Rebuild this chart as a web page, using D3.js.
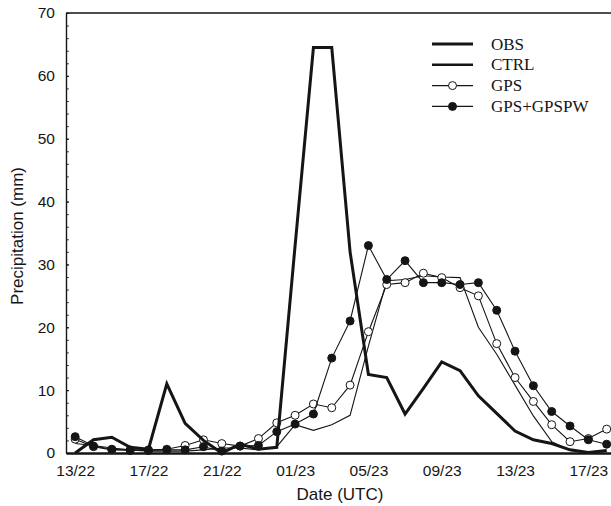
<!DOCTYPE html>
<html>
<head>
<meta charset="utf-8">
<script src="https://cdn.jsdelivr.net/npm/d3@7"></script>
<style>
  body { margin: 0; background: #fff; }
  svg { display: block; }
</style>
</head>
<body>
<div id="chart"></div>
<script>
// hourly steps from 13 UTC on the 22nd
const hours = [0, 1, 2, 3, 4, 5, 6, 7, 8, 9, 10, 11, 12, 13, 14, 15, 16, 17, 18, 19, 20, 21, 22, 23, 24, 25, 26, 27, 28, 29];
const tickHours = [0, 4, 8, 12, 16, 20, 24, 28];
const tickLabels = ["13/22", "17/22", "21/22", "01/23", "05/23", "09/23", "13/23", "17/23"];
const yTicks = [0, 10, 20, 30, 40, 50, 60, 70];

const obs = [0, 2.1, 2.5, 0.9, 0.6, 11.0, 4.7, 2.0, 0, 1.4, 0.6, 0.9, 33, 64.5, 64.5, 32, 12.5, 12.0, 6.2, 10.3, 14.5, 13.1, 9.1, 6.3, 3.5, 2.1, 1.5, 0.5, 0.1, 0.4];
const ctrl = [1.5, 1.2, 0.8, 0.5, 0.3, 0.3, 0.3, 0.5, 0.8, 0.8, 0.5, 1.0, 4.5, 3.6, 4.5, 6.0, 17.0, 27.4, 27.6, 28.2, 28.0, 27.9, 20.0, 15.7, 10.8, 5.9, 1.8, 0.4, 0.1, 0.3];
const gps = [2.2, 1.0, 0.5, 0.5, 0.5, 0.6, 1.2, 2.1, 1.5, 1.1, 2.3, 4.8, 6.0, 7.8, 7.2, 10.8, 19.3, 26.8, 27.1, 28.6, 27.9, 26.3, 25.0, 17.4, 12.0, 8.2, 4.5, 1.8, 2.3, 3.8];
const gpsPw = [2.6, 1.1, 0.6, 0.4, 0.4, 0.5, 0.5, 1.0, 0.3, 1.1, 1.2, 3.4, 4.6, 6.2, 15.1, 21.0, 33.0, 27.6, 30.6, 27.1, 27.1, 26.8, 27.1, 22.7, 16.2, 10.7, 6.6, 4.3, 2.1, 1.4];

const width = 611, height = 506;
const margin = { top: 13, left: 66, bottom: 453 };
const ink = "#151515";

const svg = d3.select("#chart").append("svg")
    .attr("width", width)
    .attr("height", height);

const x = d3.scaleLinear().domain([-0.5, 30]).range([margin.left, 625]);
const y = d3.scaleLinear().domain([0, 70]).range([margin.bottom, margin.top]);

// top frame line
svg.append("line")
    .attr("x1", margin.left).attr("x2", width)
    .attr("y1", margin.top).attr("y2", margin.top)
    .attr("stroke", ink).attr("stroke-width", 1.5);

// Eixo Y
const yAxis = svg.append("g")
    .attr("transform", `translate(${margin.left},0)`)
    .call(d3.axisLeft(y).tickValues(yTicks).tickSizeInner(-3).tickSizeOuter(0).tickPadding(11));
yAxis.select(".domain").attr("stroke", ink).attr("stroke-width", 1.4);
yAxis.selectAll(".tick line").attr("stroke", ink);
yAxis.selectAll("text")
    .attr("font-family", "Liberation Sans, Arial, sans-serif")
    .attr("font-size", 15.5)
    .attr("fill", ink);

svg.append("g")
    .attr("transform", `translate(${margin.left},0)`)
    .call(d3.axisRight(y).tickValues(d3.range(0, 71, 2)).tickSize(3).tickFormat(""))
    .call(g => g.select(".domain").remove())
    .selectAll(".tick line").attr("stroke", ink).attr("stroke-width", 0.8);

// Eixo X
const xAxis = svg.append("g")
    .attr("transform", `translate(0,${margin.bottom})`)
    .call(d3.axisBottom(x).tickValues(tickHours).tickSize(0).tickPadding(12)
        .tickFormat((d, i) => tickLabels[i]));
xAxis.select(".domain").attr("stroke", ink).attr("stroke-width", 2.4);
xAxis.selectAll("text")
    .attr("font-family", "Liberation Sans, Arial, sans-serif")
    .attr("font-size", 15.5)
    .attr("fill", ink);

svg.append("text")
    .attr("x", 340).attr("y", 500)
    .attr("text-anchor", "middle")
    .attr("font-family", "Liberation Sans, Arial, sans-serif")
    .attr("font-size", 17)
    .attr("fill", ink)
    .text("Date (UTC)");

svg.append("text")
    .attr("transform", "translate(23,236) rotate(-90)")
    .attr("text-anchor", "middle")
    .attr("font-family", "Liberation Sans, Arial, sans-serif")
    .attr("font-size", 17)
    .attr("fill", ink)
    .text("Precipitation (mm)");

const line = d3.line().x((d, i) => x(hours[i])).y(d => y(d));

const series = [
    { name: "CTRL", values: ctrl, width: 1.1, marker: null },
    { name: "GPS", values: gps, width: 1.1, marker: "open" },
    { name: "GPS+GPSPW", values: gpsPw, width: 1.1, marker: "filled" },
    { name: "OBS", values: obs, width: 3, marker: null }
];

series.forEach(s => {
    svg.append("path")
        .datum(s.values)
        .attr("fill", "none")
        .attr("stroke", ink)
        .attr("stroke-width", s.width)
        .attr("stroke-linejoin", "miter")
        .attr("d", line);
    if (s.marker) {
        svg.append("g").selectAll("circle")
            .data(s.values)
            .join("circle")
            .attr("cx", (d, i) => x(hours[i]))
            .attr("cy", d => y(d))
            .attr("r", 4)
            .attr("fill", s.marker === "filled" ? ink : "#fff")
            .attr("stroke", ink)
            .attr("stroke-width", 1);
    }
});

// Legenda
const legendItems = [
    { name: "OBS", width: 3, marker: null },
    { name: "CTRL", width: 2.6, marker: null },
    { name: "GPS", width: 1.2, marker: "open" },
    { name: "GPS+GPSPW", width: 1.2, marker: "filled" }
];
const legend = svg.append("g").attr("transform", "translate(432,44)");
legendItems.forEach((item, i) => {
    const g = legend.append("g").attr("transform", `translate(0,${i * 20.8})`);
    g.append("line")
        .attr("x1", 0).attr("x2", 41)
        .attr("stroke", ink).attr("stroke-width", item.width);
    if (item.marker) {
        g.append("circle")
            .attr("cx", 20.5).attr("r", 4)
            .attr("fill", item.marker === "filled" ? ink : "#fff")
            .attr("stroke", ink);
    }
    g.append("text")
        .attr("x", 59).attr("dy", "0.33em")
        .attr("font-family", "Liberation Serif, Times New Roman, serif")
        .attr("font-size", 17)
        .attr("fill", ink)
        .text(item.name);
});
</script>
</body>
</html>
